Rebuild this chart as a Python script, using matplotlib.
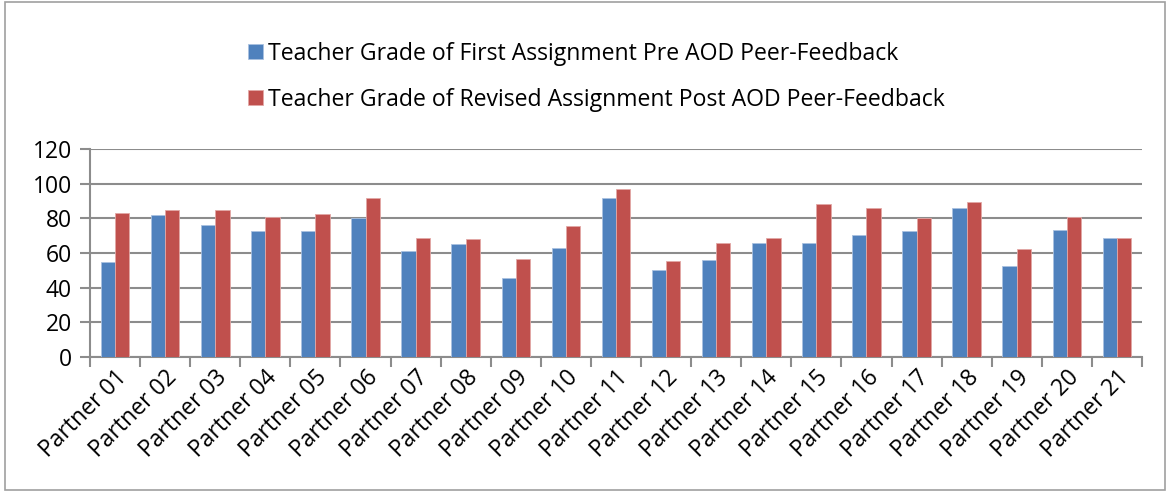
import matplotlib.pyplot as plt
import numpy as np
from matplotlib.patches import Rectangle

# ── Data ─────────────────────────────────────────────────────────────────────
partners = [f"Partner {i:02d}" for i in range(1, 22)]
pre_grade  = [55, 82, 76, 72.5, 72.5, 80, 61, 65, 45.5, 63, 92,
              50, 56, 65.5, 66, 70.5, 72.5, 86, 52.5, 73, 68.5]
post_grade = [83, 85, 85, 81, 82.5, 92, 68.5, 68, 56.5, 75.5, 97,
              55.5, 66, 68.5, 88, 86, 80, 89.5, 62.5, 81, 68.5]
series_labels = ["Teacher Grade of First Assignment Pre AOD Peer-Feedback",
                 "Teacher Grade of Revised Assignment Post AOD Peer-Feedback"]
y_ticks = [0, 20, 40, 60, 80, 100, 120]

BLUE = "#4F81BD"
RED  = "#C0504D"
GRID = "#8C8C8C"

plt.rcParams["font.family"] = ["Open Sans", "DejaVu Sans"]

fig = plt.figure(figsize=(11.69, 4.92), dpi=100)
ax = fig.add_axes([90 / 1169, 1 - 357 / 492, (1142 - 90) / 1169, (357 - 149) / 492])

x = np.arange(len(partners))
w = 0.285
ax.bar(x - w / 2, pre_grade,  w, color=BLUE, edgecolor="#A9C1E0", linewidth=0.6,
       label=series_labels[0], zorder=3)
ax.bar(x + w / 2, post_grade, w, color=RED,  edgecolor="#E2A8A6", linewidth=0.6,
       label=series_labels[1], zorder=3)

ax.set_xlim(-0.5, len(partners) - 0.5)
ax.set_ylim(0, 120)
ax.set_yticks(y_ticks)
ax.yaxis.grid(True, color=GRID, linewidth=1.5, zorder=0)
ax.set_axisbelow(True)

# category ticks sit between groups, labels at group centres
ax.set_xticks(np.arange(-0.5, len(partners)), minor=False)
ax.set_xticklabels([])
ax.set_xticks(x, minor=True)
ax.set_xticklabels(partners, minor=True, rotation=45, ha="right",
                   rotation_mode="anchor", fontsize=16.5)
ax.tick_params(axis="x", which="major", length=7, width=1.5, color=GRID, direction="out")
ax.tick_params(axis="x", which="minor", length=0, pad=6)
ax.tick_params(axis="y", length=7, width=1.5, color=GRID, labelsize=16.5, pad=6)

for side in ("top", "right"):
    ax.spines[side].set_visible(False)
for side in ("left", "bottom"):
    ax.spines[side].set_color(GRID)
    ax.spines[side].set_linewidth(1.5)

leg = fig.legend(loc="upper left", bbox_to_anchor=(227 / 1169, 1 - 21 / 492),
                 frameon=False, fontsize=16.6, handlelength=0.65, handleheight=0.65,
                 handletextpad=0.25, labelspacing=0.95)

# outer chart border
fig.patches.append(Rectangle((5 / 1169, 2 / 492), 1160 / 1169, 488 / 492,
                             transform=fig.transFigure, fill=False,
                             edgecolor="#A0A0A0", linewidth=1.2))

fig.savefig("out.png", dpi=100)
